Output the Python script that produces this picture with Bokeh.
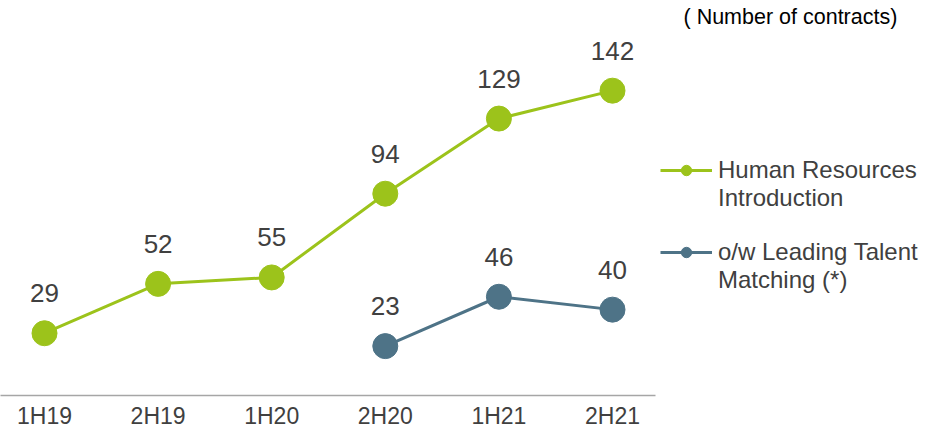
from bokeh.plotting import figure
from bokeh.models import Range1d, FixedTicker, Legend, LegendItem, Label
from bokeh.embed import file_html
from bokeh.resources import INLINE
from bokeh.core.properties import value

periods = ["1H19", "2H19", "1H20", "2H20", "1H21", "2H21"]
hr_intro = [29, 52, 55, 94, 129, 142]
lt_periods = ["2H20", "1H21", "2H21"]
lt_match = [23, 46, 40]
series1_lines = ["Human Resources", "Introduction"]
series2_lines = ["o/w Leading Talent", "Matching (*)"]
unit_note = "( Number of contracts)"

GREEN = "#9cc31b"
BLUE = "#4e7387"
TXT = "#404040"
FONT = "Liberation Sans"

xs = list(range(len(periods)))
lt_x = [periods.index(q) for q in lt_periods]

# layout (pixels)
W, H = 926, 431
FRAME_H = 397
STEP = 113.6          # px per category
FIRST = 44            # px of first category centre
AXIS_END = 655        # px where baseline ends
x0 = -FIRST / STEP
x1 = x0 + W / STEP

p = figure(width=W, height=H, output_backend="svg", toolbar_location=None,
           x_range=Range1d(x0, x1), y_range=Range1d(0, 184),
           y_axis_location=None,
           min_border_left=0, min_border_top=0, min_border_right=0,
           min_border_bottom=H - FRAME_H)
p.outline_line_color = None
p.grid.visible = False
p.background_fill_color = "white"
p.border_fill_color = "white"

ax = p.xaxis[0]
ax.ticker = FixedTicker(ticks=xs)
ax.bounds = (x0, x0 + AXIS_END / STEP)
ax.major_label_overrides = {i: s for i, s in enumerate(periods)}
ax.major_tick_line_color = None
ax.major_tick_out = 0
ax.major_tick_in = 0
ax.minor_tick_line_color = None
ax.minor_tick_out = 0
ax.axis_line_color = "#a6a6a6"
ax.axis_line_width = 1.5
ax.major_label_text_font = FONT
ax.major_label_text_font_size = "23px"
ax.major_label_text_color = TXT
ax.major_label_standoff = 7

l1 = p.line(xs, hr_intro, line_color=GREEN, line_width=3)
c1 = p.scatter(xs, hr_intro, size=25, fill_color=GREEN, line_color=GREEN)
l2 = p.line(lt_x, lt_match, line_color=BLUE, line_width=3)
c2 = p.scatter(lt_x, lt_match, size=25, fill_color=BLUE, line_color=BLUE)

t1 = p.text(xs, hr_intro, text=[str(v) for v in hr_intro], text_align="center",
            text_baseline="alphabetic", y_offset=-40, text_font=value(FONT),
            text_font_size="26px", text_color=TXT)
t2 = p.text(lt_x, lt_match, text=[str(v) for v in lt_match], text_align="center",
            text_baseline="alphabetic", y_offset=-40, text_font=value(FONT),
            text_font_size="26px", text_color=TXT)

legend = Legend(items=[LegendItem(label=series1_lines[0], renderers=[l1, c1]),
                       LegendItem(label=series1_lines[1], renderers=[t1]),
                       LegendItem(label=" ", renderers=[t1]),
                       LegendItem(label=series2_lines[0], renderers=[l2, c2]),
                       LegendItem(label=series2_lines[1], renderers=[t2])],
                location=(660, 101), margin=0, padding=0, spacing=0,
                glyph_width=52, glyph_height=26, label_height=26, label_standoff=6,
                label_text_font=FONT, label_text_font_size="24px",
                label_text_color=TXT, border_line_color=None,
                background_fill_alpha=0)
p.add_layout(legend)

p.add_layout(Label(x=683, y=FRAME_H - 18, x_units="screen", y_units="screen",
                   text=unit_note, text_font=FONT, text_font_size="21.5px",
                   text_color="black", text_baseline="middle"))

open("out.html", "w").write(file_html(p, INLINE))
